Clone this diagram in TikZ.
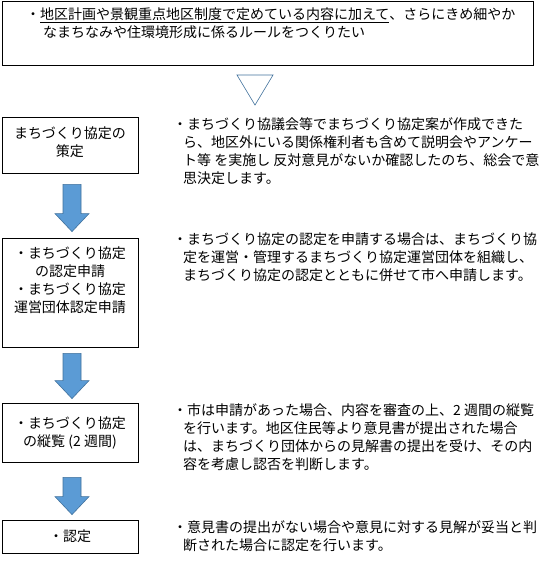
\documentclass[tikz,border=0pt]{standalone}
\usepackage{fontspec}
\newfontfamily\jpfont{Noto Sans CJK JP}
\usetikzlibrary{calc}
\definecolor{arrowblue}{RGB}{91,155,213}
\definecolor{arrowedge}{RGB}{65,113,156}
\newcommand{\jptext}{\jpfont\fontsize{14}{18}\selectfont}
\tikzset{
  stepbox/.style={draw, line width=0.8pt, inner sep=0pt, minimum width=136pt, align=center, font=\jptext},
  notetext/.style={inner sep=0pt, anchor=north west, align=left, font=\jptext},
  blockarrow/.style={fill=arrowblue, draw=arrowedge, line width=0.6pt},
}
% down arrow between two boxes: #1 upper box, #2 lower box, #3 gap below #1, #4 gap above #2
\newcommand{\flowarrow}[4]{%
  \coordinate (fa1) at ($(#1.south)+(2,#3)$);
  \coordinate (fa2) at ($(#2.north)+(2,-#4)$);
  \coordinate (fa3) at ($(fa2)+(0,-18)$);
  \draw[blockarrow] ($(fa1)+(-9,0)$) -- ($(fa1)+(9,0)$) -- ($(fa3)+(9,0)$) -- ($(fa3)+(17,0)$)
    -- (fa2) -- ($(fa3)+(-17,0)$) -- ($(fa3)+(-9,0)$) -- cycle;
}
\begin{document}
\begin{tikzpicture}[x=1pt,y=1pt,yscale=-1,xscale=1]
  \useasboundingbox (0,0) rectangle (546,574);

  %Shape: Rectangle (goal)
  \node[draw, line width=0.8pt, minimum width=531pt, minimum height=64pt, inner sep=0pt] (goal) at (267.5,33) {};
  % Text Node
  \node[notetext] (goaltext) at (26,8) {・\underline{地区計画や景観重点地区制度で定めている内容に加えて}、さらにきめ細やか\\
    \hspace*{17pt}なまちなみや住環境形成に係るルールをつくりたい};

  %Shape: Triangle
  \draw[draw=arrowedge, line width=0.6pt] (237,75) -- (273,75) -- (255,105) -- cycle;

  %Shape: Rectangles (steps)
  \node[stepbox, minimum height=56pt, text depth=7.5pt] (b1) at (70,145) {まちづくり協定の\\策定};
  \node[stepbox, minimum height=109pt, text depth=26pt] (b2) at (70,292.5) {・まちづくり協定\\の認定申請\\・まちづくり協定\\運営団体認定申請};
  \node[stepbox, minimum height=59pt] (b3) at (70,432.5) {・まちづくり協定\\の縦覧 (2 週間)};
  \node[stepbox, minimum height=33pt] (b4) at (70,536.5) {・認定};

  %Down Arrows
  \flowarrow{b1}{b2}{11}{6}
  \flowarrow{b2}{b3}{6}{4}
  \flowarrow{b3}{b4}{15}{5}

  % Text Node
  \node[notetext] (t1) at (173,117) {・まちづくり協議会等でまちづくり協定案が作成できた\\
    \hspace*{10pt}ら、地区外にいる関係権利者も含めて説明会やアンケー\\
    \hspace*{10pt}ト等 を実施し 反対意見がないか確認したのち、総会で意\\
    \hspace*{10pt}思決定します。};
  % Text Node
  \node[notetext] (t2) at (173,233) {・まちづくり協定の認定を申請する場合は、まちづくり協\\
    \hspace*{10pt}定を運営・管理するまちづくり協定運営団体を組織し、\\
    \hspace*{10pt}まちづくり協定の認定とともに併せて市へ申請します。};
  % Text Node
  \node[notetext] (t3) at (173,403) {・市は申請があった場合、内容を審査の上、2 週間の縦覧\\
    \hspace*{10pt}を行います。地区住民等より意見書が提出された場合\\
    \hspace*{10pt}は、まちづくり団体からの見解書の提出を受け、その内\\
    \hspace*{10pt}容を考慮し認否を判断します。};
  % Text Node
  \node[notetext] (t4) at (173,520) {・意見書の提出がない場合や意見に対する見解が妥当と判\\
    \hspace*{10pt}断された場合に認定を行います。};
\end{tikzpicture}
\end{document}
